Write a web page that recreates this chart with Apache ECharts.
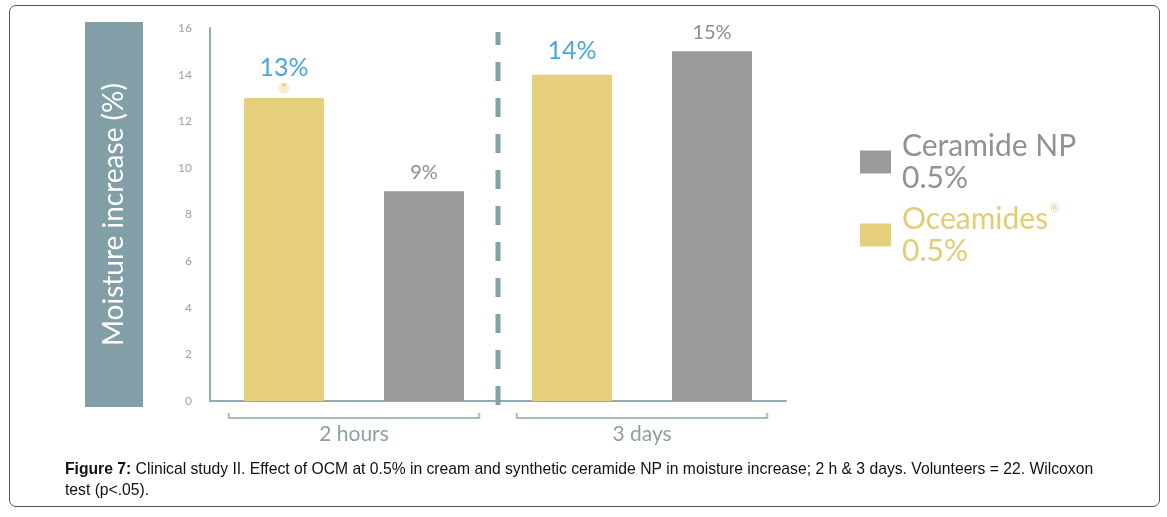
<!DOCTYPE html>
<html>
<head>
<meta charset="utf-8">
<script src="https://cdn.jsdelivr.net/npm/echarts@6/dist/echarts.min.js"></script>
<style>
  html, body { margin: 0; padding: 0; background: #fff; }
  #main { width: 1167px; height: 517px; position: absolute; left: 0; top: 0; }
  #frame { position: absolute; left: 9px; top: 5px; width: 1149px; height: 500px;
    border: 1px solid #555; border-radius: 7px; pointer-events: none; }
</style>
</head>
<body>
<div id="main"></div>
<div id="frame"></div>
<script>
// data
const categories = ['2 hours', '3 days'];
const oceamides = [13, 14];
const ceramide = [9, 15];
const significant = [true, false]; // asterisk above the bar
const yTicks = { min: 0, max: 16, step: 2 };

const YELLOW = '#e6cf7c';
const GRAY = '#9a9a9a';
const AXIS = '#93abb2';

const chart = echarts.init(document.getElementById('main'), null, { renderer: 'canvas' });

var option = {
  animation: false,
  title: {
    text: '{b|Figure 7:} Clinical study II. Effect of OCM at 0.5% in cream and synthetic ceramide NP in moisture increase; 2 h & 3 days. Volunteers = 22. Wilcoxon\ntest (p<.05).',
    left: 60,
    top: 454,
    textStyle: {
      fontFamily: 'Liberation Sans',
      fontSize: 15.7,
      fontWeight: 'normal',
      color: '#111',
      lineHeight: 21,
      rich: {
        b: { fontFamily: 'Liberation Sans', fontSize: 15.7, fontWeight: 'bold', color: '#111' }
      }
    }
  },
  legend: {
    orient: 'vertical',
    left: 855,
    top: 125,
    itemWidth: 31,
    itemHeight: 23,
    itemGap: 9,
    icon: 'rect',
    data: [
      { name: 'Ceramide NP 0.5%', textStyle: { color: '#929292' } },
      { name: 'Oceamides 0.5%', textStyle: { color: '#e3cc74' } }
    ],
    formatter: function (name) {
      if (name.indexOf('Oceamides') === 0) {
        return '{t|Oceamides}{s|®}\n{t|0.5%}';
      }
      return '{t|Ceramide NP}\n{t|0.5%}';
    },
    textStyle: {
      fontFamily: 'Lato',
      fontSize: 30,
      lineHeight: 32,
      padding: [0, 0, 0, 6],
      rich: {
        t: { fontFamily: 'Lato', fontSize: 30, lineHeight: 32 },
        s: { fontFamily: 'Lato', fontSize: 11, lineHeight: 32, verticalAlign: 'top', padding: [0, 0, 16, 2] }
      }
    }
  },
  grid: {
    left: 210,
    right: 381,
    top: 28,
    bottom: 116
  },
  xAxis: {
    type: 'category',
    data: categories,
    axisLine: { show: true, lineStyle: { color: AXIS, width: 2 } },
    axisTick: { show: false },
    axisLabel: {
      margin: 23,
      color: '#8d9fa5',
      fontFamily: 'Lato',
      fontSize: 21
    },
    splitLine: { show: false }
  },
  yAxis: {
    type: 'value',
    min: yTicks.min,
    max: yTicks.max,
    interval: yTicks.step,
    name: 'Moisture increase (%)',
    nameLocation: 'middle',
    nameGap: 67,
    nameRotate: 90,
    nameTextStyle: {
      color: '#ffffff',
      fontFamily: 'Lato',
      fontSize: 28,
      backgroundColor: '#829ea6',
      padding: [15, 61, 15, 61]
    },
    axisLine: { show: true, lineStyle: { color: AXIS, width: 2 } },
    axisTick: { show: false },
    splitLine: { show: false },
    axisLabel: {
      margin: 18,
      color: '#a0a0a0',
      fontFamily: 'Lato',
      fontSize: 12
    }
  },
  series: [{
    name: 'Oceamides 0.5%',
    type: 'bar',
    data: oceamides.map(function (v, i) {
      return { value: v, label: { distance: significant[i] ? 3 : 11 } };
    }),
    barWidth: 80,
    barGap: '75%',
    itemStyle: { color: YELLOW },
    label: {
      show: true,
      position: 'top',
      formatter: function (p) {
        if (significant[p.dataIndex]) return '{v|' + p.value + '%}\n{s|*}';
        return '{v|' + p.value + '%}';
      },
      rich: {
        v: { color: '#4aa7de', fontFamily: 'Lato', fontSize: 25, lineHeight: 26 },
        s: { color: '#e2c256', fontSize: 11, width: 11, height: 11, lineHeight: 14,
          align: 'center', backgroundColor: '#f5edcf', borderRadius: 6 }
      }
    }
  }, {
    name: 'Ceramide NP 0.5%',
    type: 'bar',
    data: ceramide,
    barWidth: 80,
    itemStyle: { color: GRAY },
    label: {
      show: true,
      position: 'top',
      distance: 9,
      formatter: '{c}%',
      color: '#8e8e8e',
      fontFamily: 'Lato',
      fontSize: 20
    }
  }, {
    // brackets under each group + dashed separator between groups
    type: 'custom',
    silent: true,
    clip: false,
    data: categories.map(function (c) { return [c, 0]; }),
    encode: { x: 0, y: 1 },
    renderItem: function (params, api) {
      var p = api.coord([api.value(0), 0]);
      var band = api.size([1, 0])[0];
      var w = band * 0.87;
      var y = p[1] + 17;
      var children = [{
        type: 'polyline',
        shape: { points: [[p[0] - w / 2, y - 5], [p[0] - w / 2, y], [p[0] + w / 2, y], [p[0] + w / 2, y - 5]] },
        style: { stroke: '#a9babf', lineWidth: 2, fill: null }
      }];
      if (params.dataIndex < categories.length - 1) {
        var top = api.coord([api.value(0), yTicks.max]);
        children.push({
          type: 'line',
          shape: { x1: p[0] + band / 2, y1: p[1] + 4, x2: p[0] + band / 2, y2: top[1] + 4 },
          style: { stroke: '#84a1a8', lineWidth: 5, lineDash: [19, 17] }
        });
      }
      return { type: 'group', children: children };
    }
  }]
};

chart.setOption(option);
</script>
</body>
</html>
